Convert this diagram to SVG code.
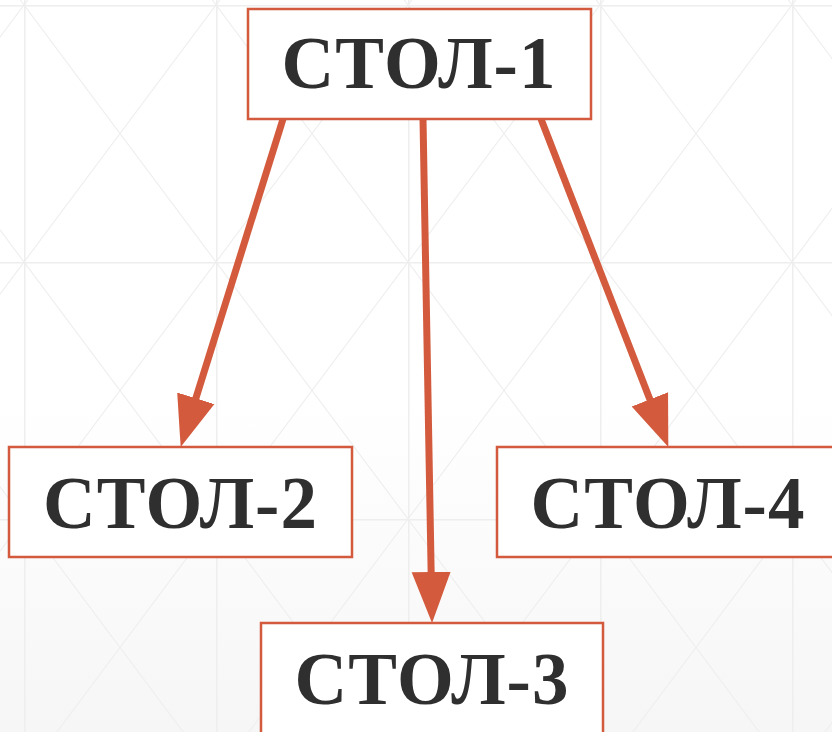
<svg xmlns="http://www.w3.org/2000/svg" width="832" height="732" viewBox="0 0 832 732">
<defs>
<linearGradient id="bg" x1="0" y1="0" x2="0" y2="1">
<stop offset="0" stop-color="#ffffff"/>
<stop offset="0.55" stop-color="#ffffff"/>
<stop offset="1" stop-color="#f6f6f6"/>
</linearGradient>
<marker id="ah" markerUnits="userSpaceOnUse" markerWidth="60" markerHeight="44" viewBox="0 -22 60 44" refX="20" refY="0" orient="auto">
<path d="M0,-19.5 L51,0 L0,19.5 z" fill="#d35a3c"/>
</marker>
<pattern id="grid" patternUnits="userSpaceOnUse" x="24" y="5" width="192" height="257">
<path d="M0,0 L192,257 M192,0 L0,257" stroke="#efefef" stroke-width="1.2" fill="none"/>
<path d="M0,0 V257 M0,0 H192" stroke="#eeeeee" stroke-width="3" fill="none"/>
</pattern>
</defs>
<style>
.box{fill:#ffffff;stroke:#d35a3c;stroke-width:2.5}
.lbl{font-family:"Liberation Serif","Times New Roman",serif;font-weight:bold;font-size:73px;letter-spacing:1px;fill:#2f2f2f;text-anchor:middle}
.edge{stroke:#d35a3c;stroke-width:7;fill:none;marker-end:url(#ah)}
</style>
<rect x="0" y="0" width="832" height="732" fill="url(#bg)"/>
<rect x="0" y="0" width="832" height="732" fill="url(#grid)"/>
<g id="connectors">
<line class="edge" x1="283" y1="119" x2="189.9" y2="417.4"/>
<line class="edge" x1="423" y1="119" x2="431.5" y2="592"/>
<line class="edge" x1="541" y1="119" x2="657.1" y2="418"/>
</g>
<g id="stol1">
<rect class="box" x="248" y="9" width="343" height="110"/>
<text class="lbl" x="419" y="88">СТОЛ-1</text>
</g>
<g id="stol2">
<rect class="box" x="9" y="447" width="343" height="110"/>
<text class="lbl" x="180.5" y="528">СТОЛ-2</text>
</g>
<g id="stol3">
<rect class="box" x="261" y="623" width="342" height="130"/>
<text class="lbl" x="432" y="704">СТОЛ-3</text>
</g>
<g id="stol4">
<rect class="box" x="497" y="447" width="343" height="110"/>
<text class="lbl" x="668" y="528">СТОЛ-4</text>
</g>
</svg>
